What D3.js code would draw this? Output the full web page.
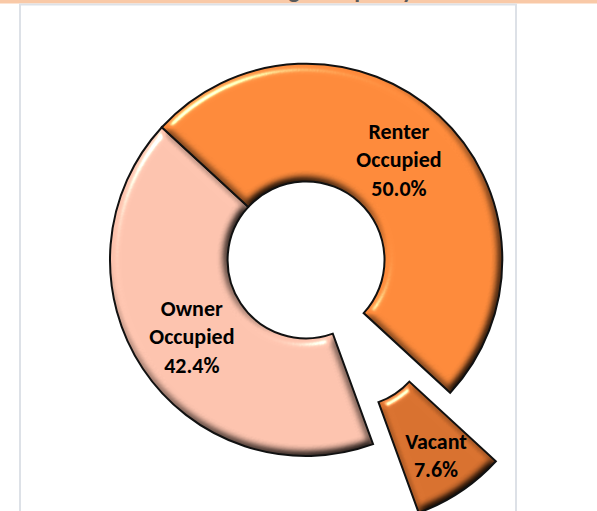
<!DOCTYPE html>
<html>
<head>
<meta charset="utf-8">
<script src="https://cdn.jsdelivr.net/npm/d3@7"></script>
<style>
  html, body { margin: 0; padding: 0; background: #fff; }
  svg { display: block; }
</style>
</head>
<body>
<svg id="chart"></svg>
<script>
// data
var categories = ["Owner Occupied", "Renter Occupied", "Vacant"];
var values = [42.4, 50.0, 7.6];
var exploded = ["Vacant"];
var title = "Housing Occupancy";

var W = 597, H = 511,
    cx = 306, cy = 260,
    outerR = 196,
    innerR = outerR * 0.4,
    explodeDist = outerR * 0.42,
    firstSliceAngle = 160,
    rad = Math.PI / 180;

var svg = d3.select("#chart")
    .attr("width", W)
    .attr("height", H);

var color = d3.scaleOrdinal()
    .domain(categories)
    .range(["#fcc3ae", "#fd8a3b", "#d8712f"]);

// bevel filter: diffuse shading multiplied + specular highlight added
var defs = svg.append("defs");
var f = defs.append("filter")
    .attr("id", "bevel")
    .attr("color-interpolation-filters", "sRGB")
    .attr("x", "-10%").attr("y", "-10%")
    .attr("width", "120%").attr("height", "120%");
f.append("feGaussianBlur")
    .attr("in", "SourceAlpha")
    .attr("stdDeviation", 4)
    .attr("result", "blur");
f.append("feDiffuseLighting")
    .attr("in", "blur")
    .attr("surfaceScale", 6)
    .attr("diffuseConstant", 1 / Math.sin(55 * rad))
    .attr("lighting-color", "#fff")
    .attr("result", "diff")
  .append("feDistantLight")
    .attr("azimuth", 235)
    .attr("elevation", 55);
f.append("feComposite")
    .attr("in", "SourceGraphic").attr("in2", "diff")
    .attr("operator", "arithmetic")
    .attr("k1", 1).attr("k2", 0).attr("k3", 0).attr("k4", 0)
    .attr("result", "shaded");
f.append("feSpecularLighting")
    .attr("in", "blur")
    .attr("surfaceScale", 6)
    .attr("specularConstant", 0.7)
    .attr("specularExponent", 40)
    .attr("lighting-color", "#fff")
    .attr("result", "spec")
  .append("feDistantLight")
    .attr("azimuth", 235)
    .attr("elevation", 35);
f.append("feComposite")
    .attr("in", "spec").attr("in2", "SourceAlpha")
    .attr("operator", "in")
    .attr("result", "specIn");
f.append("feComposite")
    .attr("in", "shaded").attr("in2", "specIn")
    .attr("operator", "arithmetic")
    .attr("k1", 0).attr("k2", 1).attr("k3", 1).attr("k4", 0)
    .attr("result", "lit");
f.append("feComposite")
    .attr("in", "lit").attr("in2", "SourceAlpha")
    .attr("operator", "in");

// header band with the cropped title
svg.append("rect")
    .attr("x", 0).attr("y", 0)
    .attr("width", W).attr("height", 3.5)
    .attr("fill", "#f9c9a7");
svg.append("text")
    .attr("x", 219).attr("y", -2.5)
    .attr("font-family", "Calibri, Carlito, 'Liberation Sans', Arial, sans-serif")
    .attr("font-weight", "bold")
    .attr("font-size", 24)
    .attr("fill", "#595959")
    .text(title);

// chart area frame
svg.append("rect")
    .attr("x", 20).attr("y", 4.5)
    .attr("width", 496).attr("height", H + 20)
    .attr("fill", "#fff")
    .attr("stroke", "#dde1e7")
    .attr("stroke-width", 2);

var pie = d3.pie()
    .sort(null)
    .value(function (d) { return d.value; })
    .startAngle(firstSliceAngle * rad)
    .endAngle(firstSliceAngle * rad + 2 * Math.PI);

var arc = d3.arc()
    .innerRadius(innerR)
    .outerRadius(outerR);

var data = categories.map(function (c, i) {
    return { name: c, value: values[i] };
});
var slices = pie(data);

function offset(d) {
    if (exploded.indexOf(d.data.name) < 0) return [0, 0];
    var a = (d.startAngle + d.endAngle) / 2;
    return [explodeDist * Math.sin(a), -explodeDist * Math.cos(a)];
}

var g = svg.selectAll("g.slice")
    .data(slices)
    .join("g")
    .attr("class", "slice")
    .attr("transform", function (d) {
        var o = offset(d);
        return "translate(" + (cx + o[0]) + "," + (cy + o[1]) + ")";
    });

g.append("path")
    .attr("d", arc)
    .attr("fill", function (d) { return color(d.data.name); })
    .attr("filter", "url(#bevel)");

g.append("path")
    .attr("d", arc)
    .attr("fill", "none")
    .attr("stroke", "#111")
    .attr("stroke-width", 2)
    .attr("stroke-linejoin", "miter");

// labels: category split in two lines plus percentage
var labelR = (innerR + outerR) / 2;
var lineH = 28.5;
g.append("text")
    .attr("font-family", "Calibri, Carlito, 'Liberation Sans', Arial, sans-serif")
    .attr("font-weight", "bold")
    .attr("font-size", 22)
    .attr("fill", "#000")
    .attr("text-anchor", "middle")
    .each(function (d) {
        var a = (d.startAngle + d.endAngle) / 2;
        var r = exploded.indexOf(d.data.name) < 0 ? labelR : labelR + 15;
        var x = r * Math.sin(a), y = -r * Math.cos(a);
        var lines = d.data.name.split(" ").filter(function (w) { return w.length; });
        lines.push(d3.format(".1f")(d.data.value) + "%");
        var t = d3.select(this);
        var y0 = y - (lines.length - 1) * lineH / 2 + 8;
        lines.forEach(function (l, i) {
            t.append("tspan")
                .attr("x", x)
                .attr("y", y0 + i * lineH)
                .text(l);
        });
    });
</script>
</body>
</html>
